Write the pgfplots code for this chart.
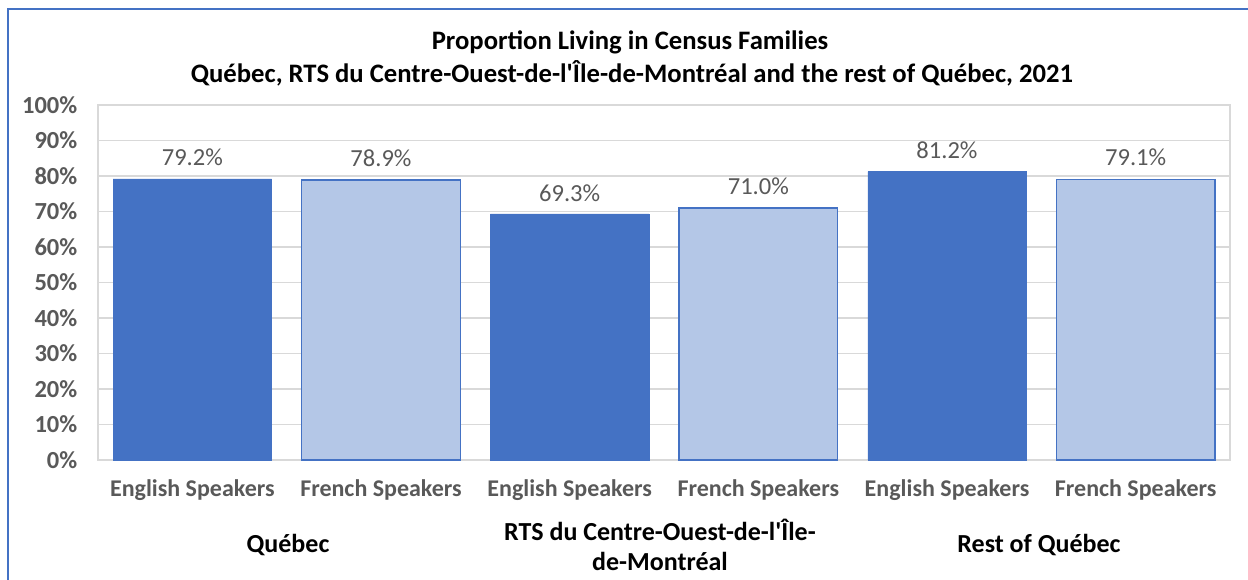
\documentclass[border=0pt]{standalone}
\usepackage{fontspec}
\setmainfont{Carlito}
\usepackage{pgfplots}
\pgfplotsset{compat=1.18}
\definecolor{EngBlue}{HTML}{4472C4}
\definecolor{FreBlue}{HTML}{B4C7E7}
\definecolor{TickGray}{HTML}{595959}
\definecolor{GridGray}{HTML}{D9D9D9}
\begin{document}
\begin{tikzpicture}[x=0.75pt,y=0.75pt]
\useasboundingbox (0,0) rectangle (1248,580);
% frame (only top and left edges visible in the screenshot)
\draw[EngBlue,line width=1.5pt] (8,0) -- (8,571) -- (1248,571);
% title
\node[font=\fontsize{20}{24}\selectfont\bfseries] at (630,538)
  {Proportion Living in Census Families};
\node[font=\fontsize{20}{24}\selectfont\bfseries] at (632,507)
  {Québec, RTS du Centre-Ouest-de-l\textquotesingle Île-de-Montréal and the rest of Québec, 2021};
\begin{axis}[
    at={(73.5pt,90pt)},anchor=south west,
    scale only axis,
    width=849pt,height=266.25pt,
    ybar,bar shift=0pt,bar width=0.84,
    xmin=-0.5,xmax=5.5,
    ymin=0,ymax=100,
    xtick={0,1,2,3,4,5},
    xticklabels={English Speakers,French Speakers,English Speakers,French Speakers,English Speakers,French Speakers},
    ytick={0,10,...,100},
    yticklabel={\pgfmathprintnumber{\tick}\%},
    /pgf/number format/assume math mode=true,
    major tick length=0pt,
    axis line style={draw=GridGray,line width=1pt},
    ymajorgrids=true,
    major grid style={draw=GridGray,line width=1pt},
    yticklabel style={font=\fontsize{18.4}{22}\selectfont\bfseries,text=TickGray,xshift=-12pt},
    xticklabel style={font=\fontsize{18}{22}\selectfont\bfseries,text=TickGray,yshift=-11pt},
    nodes near coords={\pgfmathprintnumber[fixed,fixed zerofill,precision=1]{\pgfplotspointmeta}\%},
    nodes near coords style={font=\fontsize{18.4}{22}\selectfont,text=TickGray,yshift=6pt},
    clip=false,
]
\addplot[fill=EngBlue,draw=EngBlue] coordinates {(0,79.2) (2,69.3) (4,81.2)};
\addplot[fill=FreBlue,draw=EngBlue,line width=1pt] coordinates {(1,78.9) (3,71.0) (5,79.1)};
\end{axis}
% group labels
\node[font=\fontsize{19.5}{23}\selectfont\bfseries] at (288,35) {Québec};
\node[font=\fontsize{19.5}{23}\selectfont\bfseries,align=center] at (660,35)
  {RTS du Centre-Ouest-de-l\textquotesingle Île-\\de-Montréal};
\node[font=\fontsize{19.5}{23}\selectfont\bfseries] at (1039,35) {Rest of Québec};
\end{tikzpicture}
\end{document}
